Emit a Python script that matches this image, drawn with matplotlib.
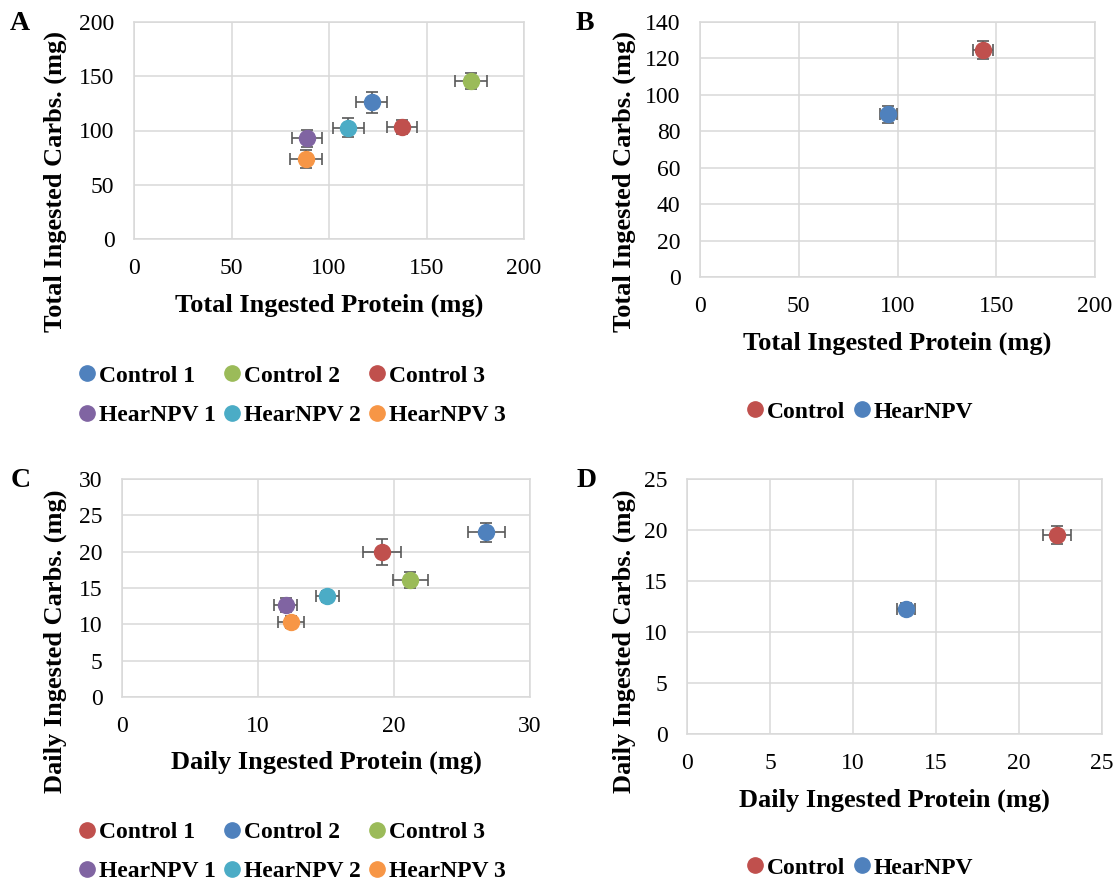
import matplotlib
matplotlib.use('Agg')
import matplotlib.pyplot as plt
from matplotlib.lines import Line2D

plt.rcParams['font.family'] = ['Liberation Serif', 'DejaVu Serif']

# Office palette
BLUE = '#4F81BD'
RED = '#C0504D'
GREEN = '#9BBB59'
PURPLE = '#8064A2'
AQUA = '#4BACC6'
ORANGE = '#F79646'
ERR = '#595959'
GRID = '#D9D9D9'

# Panel A - total intake per replicate
labels_a = ['Control 1', 'Control 2', 'Control 3', 'HearNPV 1', 'HearNPV 2', 'HearNPV 3']
colors_a = [BLUE, GREEN, RED, PURPLE, AQUA, ORANGE]
prot_a = [122.0, 172.8, 137.4, 88.8, 109.8, 88.2]
prot_a_err = [7.9, 8.1, 7.9, 7.6, 8.0, 8.4]
carb_a = [125.9, 145.5, 103.5, 92.8, 102.6, 73.8]
carb_a_err = [10.0, 7.7, 6.6, 7.8, 8.6, 8.1]

# Panel B - total intake per treatment
labels_b = ['Control', 'HearNPV']
colors_b = [RED, BLUE]
prot_b = [143.3, 95.4]
prot_b_err = [4.9, 4.5]
carb_b = [124.5, 89.4]
carb_b_err = [5.0, 4.6]

# Panel C - daily intake per replicate
labels_c = ['Control 1', 'Control 2', 'Control 3', 'HearNPV 1', 'HearNPV 2', 'HearNPV 3']
colors_c = [RED, BLUE, GREEN, PURPLE, AQUA, ORANGE]
prot_c = [19.1, 26.8, 21.2, 12.03, 15.1, 12.45]
prot_c_err = [1.38, 1.35, 1.31, 0.87, 0.84, 0.96]
carb_c = [19.98, 22.65, 16.08, 12.68, 13.87, 10.38]
carb_c_err = [1.77, 1.26, 1.13, 0.92, 0.76, 0.83]

# Panel D - daily intake per treatment
labels_d = ['Control', 'HearNPV']
colors_d = [RED, BLUE]
prot_d = [22.29, 13.2]
prot_d_err = [0.87, 0.52]
carb_d = [19.53, 12.3]
carb_d_err = [0.9, 0.54]

W, H = 1116, 886
fig = plt.figure(figsize=(W / 100, H / 100), dpi=100)


def make_axes(left, top, right, bottom):
    return fig.add_axes([left / W, 1 - bottom / H, (right - left) / W, (bottom - top) / H])


def draw_panel(ax, xs, xerrs, ys, yerrs, colors, xmax, xstep, ymax, ystep,
               xlabel, ylabel, xlab_pos, ylab_pos):
    for x, xe, y, ye, c in zip(xs, xerrs, ys, yerrs, colors):
        ax.errorbar(x, y, xerr=xe, yerr=ye, fmt='none', ecolor=ERR,
                    elinewidth=1.2, capsize=4, capthick=1.2, zorder=3)
        ax.plot(x, y, 'o', color=c, markersize=11.5, zorder=4)
    ax.set_xlim(0, xmax)
    ax.set_ylim(0, ymax)
    ax.set_xticks(range(0, xmax + 1, xstep))
    ax.set_yticks(range(0, ymax + 1, ystep))
    ax.grid(True, color=GRID, linewidth=1.1, zorder=0)
    ax.set_axisbelow(True)
    for s in ax.spines.values():
        s.set_color(GRID)
        s.set_linewidth(1.1)
    ax.tick_params(length=0, labelsize=17)
    ax.tick_params(axis='x', pad=14)
    ax.tick_params(axis='y', pad=14)
    ax.set_xlabel(xlabel, fontsize=19, fontweight='bold', va='center')
    ax.set_ylabel(ylabel, fontsize=19, fontweight='bold', va='center')
    ax.xaxis.set_label_coords(*xlab_pos)
    ax.yaxis.set_label_coords(*ylab_pos)


def add_legend(labels, colors, cx, cy, ncol):
    handles = [Line2D([], [], marker='o', linestyle='none', color=c, markersize=11)
               for c in colors]
    if ncol == 3:
        order = [0, 3, 1, 4, 2, 5]
        handles = [handles[i] for i in order]
        labels = [labels[i] for i in order]
    fig.legend(handles, labels, loc='center', bbox_to_anchor=(cx / W, 1 - cy / H),
               ncol=ncol, frameon=False, handlelength=0.7, handletextpad=0.15,
               columnspacing=0.35, labelspacing=0.75,
               prop={'size': 17, 'weight': 'bold'})


axA = make_axes(134, 22, 524, 239)
draw_panel(axA, prot_a, prot_a_err, carb_a, carb_a_err, colors_a, 200, 50, 200, 50,
           'Total Ingested Protein (mg)', 'Total Ingested Carbs. (mg)',
           (0.5, -0.304), (-0.203, 0.263))
add_legend(labels_a, colors_a, 292, 395.5, 3)

axB = make_axes(700, 22, 1095, 277)
draw_panel(axB, prot_b, prot_b_err, carb_b, carb_b_err, colors_b, 200, 50, 140, 20,
           'Total Ingested Protein (mg)', 'Total Ingested Carbs. (mg)',
           (0.5, -0.259), (-0.192, 0.373))
add_legend(labels_b, colors_b, 860, 412, 2)

axC = make_axes(122, 479, 530, 697)
draw_panel(axC, prot_c, prot_c_err, carb_c, carb_c_err, colors_c, 30, 10, 30, 5,
           'Daily Ingested Protein (mg)', 'Daily Ingested Carbs. (mg)',
           (0.5, -0.298), (-0.164, 0.257))
add_legend(labels_c, colors_c, 292, 852, 3)

axD = make_axes(687, 479, 1102, 734)
draw_panel(axD, prot_d, prot_d_err, carb_d, carb_d_err, colors_d, 25, 5, 25, 5,
           'Daily Ingested Protein (mg)', 'Daily Ingested Carbs. (mg)',
           (0.501, -0.259), (-0.152, 0.365))
add_legend(labels_d, colors_d, 860, 868, 2)

# panel letters
for letter, x, y in [('A', 20, 23), ('B', 585, 23), ('C', 21, 480), ('D', 587, 480)]:
    fig.text(x / W, 1 - y / H, letter, fontsize=20, fontweight='bold',
             ha='center', va='center')

fig.savefig('out.png', dpi=100, facecolor='white')
